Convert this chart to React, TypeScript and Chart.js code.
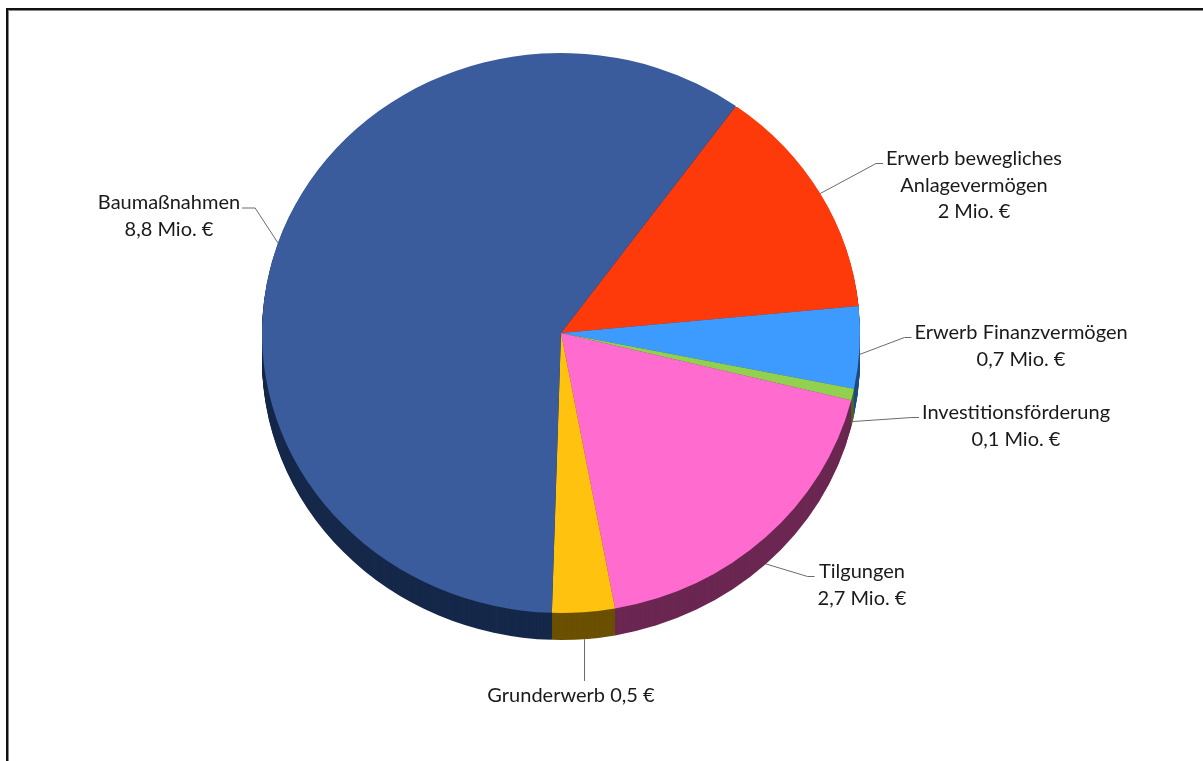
import React, { useEffect, useRef } from "react";
import { Chart, registerables } from "chart.js";

Chart.register(...registerables);

const categories = [
  "Erwerb bewegliches Anlagevermögen",
  "Erwerb Finanzvermögen",
  "Investitionsförderung",
  "Tilgungen",
  "Grunderwerb",
  "Baumaßnahmen",
];
const values = [2, 0.7, 0.1, 2.7, 0.5, 8.8];
const labelLines = [
  ["Erwerb bewegliches", "Anlagevermögen", "2 Mio. €"],
  ["Erwerb Finanzvermögen", "0,7 Mio. €"],
  ["Investitionsförderung", "0,1 Mio. €"],
  ["Tilgungen", "2,7 Mio. €"],
  ["Grunderwerb 0,5 €"],
  ["Baumaßnahmen", "8,8 Mio. €"],
];
const topColors = ["#FF3A0A", "#3D9BFF", "#92D050", "#FF6BCF", "#FFC20E", "#3A5C9C"];
const sideColors = ["#7A1C05", "#1E4C80", "#46662A", "#6B2752", "#6B5000", "#15284A"];

// layout (not data)
const labelPos: { x: number; y: number; side: "left" | "right" | "bottom" }[] = [
  { x: 974, y: 159, side: "right" },
  { x: 1021, y: 333, side: "right" },
  { x: 1016, y: 413, side: "right" },
  { x: 862, y: 572, side: "right" },
  { x: 571, y: 696, side: "bottom" },
  { x: 169, y: 203, side: "left" },
];
const PIE_CY = 333;
const RX = 299;
const RY = 280;
const DEPTH = 27;
const FONT = '20px Lato, "Open Sans", sans-serif';
const LINE_H = 26.5;

function getGeom(chart: any) {
  const meta = chart.getDatasetMeta(0);
  const arc0 = meta.data[0] as any;
  return { cx: arc0.x, cy: arc0.y, r: arc0.outerRadius, sy: RY / RX };
}

const pie3d = {
  id: "pie3d",
  beforeDatasetsDraw(chart: any) {
    const ctx = chart.ctx;
    const meta = chart.getDatasetMeta(0);
    const { cx, cy, r, sy } = getGeom(chart);
    ctx.save();
    ctx.translate(cx, PIE_CY);
    ctx.scale(1, sy);
    ctx.translate(-cx, -cy);
    // side walls
    for (let d = DEPTH; d >= 1; d--) {
      const off = d / sy;
      meta.data.forEach((a: any, i: number) => {
        ctx.beginPath();
        ctx.moveTo(cx, cy + off);
        ctx.arc(cx, cy + off, r, a.startAngle, a.endAngle);
        ctx.closePath();
        ctx.fillStyle = sideColors[i];
        ctx.fill();
      });
    }
  },
  afterDatasetsDraw(chart: any) {
    chart.ctx.restore();
  },
  afterDraw(chart: any) {
    const ctx = chart.ctx;
    const meta = chart.getDatasetMeta(0);
    const { cx, r, sy } = getGeom(chart);
    ctx.save();
    ctx.font = FONT;
    ctx.textAlign = "center";
    ctx.textBaseline = "middle";
    meta.data.forEach((a: any, i: number) => {
      const mid = (a.startAngle + a.endAngle) / 2;
      const s = Math.sin(mid);
      let ax = cx + r * Math.cos(mid);
      let ay = PIE_CY + r * sy * s;
      if (s > 0) ay += DEPTH * Math.min(1, s * 5);
      const lp = labelPos[i];
      const lines = labelLines[i];
      const w = Math.max(...lines.map((t) => ctx.measureText(t).width));
      ctx.strokeStyle = "#6b6b6b";
      ctx.lineWidth = 1;
      ctx.beginPath();
      if (lp.side === "right") {
        const left = lp.x - w / 2;
        const ly = lp.y + 4.5;
        ctx.moveTo(ax, ay);
        ctx.lineTo(left - 10, ly);
        ctx.lineTo(left - 3, ly);
      } else if (lp.side === "left") {
        const right = lp.x + w / 2;
        const ly = lp.y + 5;
        ctx.moveTo(ax, ay);
        ctx.lineTo(right + 15, ly);
        ctx.lineTo(right + 2, ly);
      } else {
        ctx.moveTo(Math.round(ax) + 0.5, ay);
        ctx.lineTo(Math.round(ax) + 0.5, lp.y - 15);
      }
      ctx.stroke();
      ctx.fillStyle = "#1a1a1a";
      lines.forEach((t, k) => ctx.fillText(t, lp.x, lp.y + k * LINE_H));
    });
    ctx.restore();
  },
};

export default function App() {
  const ref = useRef<HTMLCanvasElement>(null);
  useEffect(() => {
    const canvas = ref.current!;
    const chart = new Chart(canvas, {
      type: "pie",
      data: {
        labels: categories,
        datasets: [
          {
            data: values,
            backgroundColor: topColors,
            borderWidth: 0,
            hoverOffset: 0,
            clip: false as any,
          },
        ],
      },
      options: {
        responsive: false,
        animation: false,
        events: [],
        rotation: 35.8,
        layout: { padding: { left: 262, right: 343, top: 0, bottom: 163 } },
        plugins: { legend: { display: false }, tooltip: { enabled: false } },
      },
      plugins: [pie3d],
    });
    return () => chart.destroy();
  }, []);
  return (
    <div style={{ position: "absolute", left: 0, top: 0, width: 1203, height: 761, overflow: "hidden", background: "#fff" }}>
      <div
        style={{
          position: "absolute",
          left: 6,
          top: 8,
          width: 1400,
          height: 1000,
          borderLeft: "2px solid #111",
          borderTop: "2px solid #111",
          boxShadow: "inset 1px 1px 0 #888",
        }}
      />
      <canvas ref={ref} width={1203} height={761} style={{ position: "absolute", left: 0, top: 0, width: 1203, height: 761 }} />
    </div>
  );
}
